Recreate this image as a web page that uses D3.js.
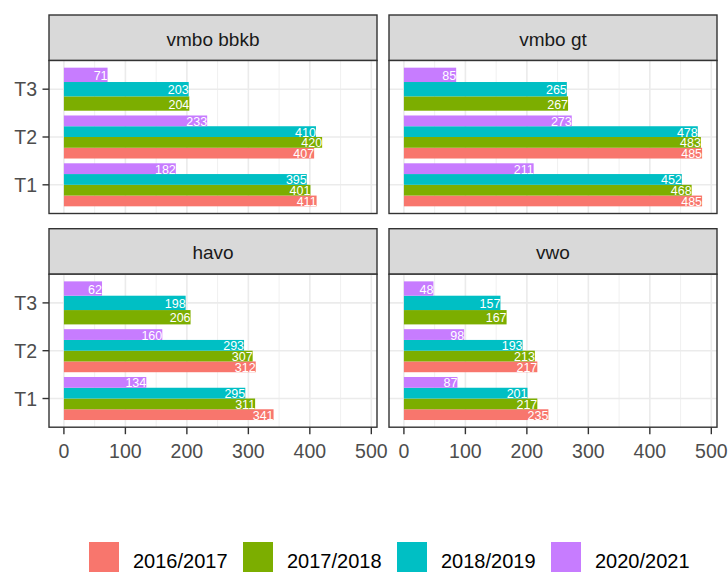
<!DOCTYPE html>
<html>
<head>
<meta charset="utf-8">
<script src="https://cdn.jsdelivr.net/npm/d3@7"></script>
<style>
  body { margin: 0; background: #fff; }
  svg { display: block; font-family: "Liberation Sans", Arial, sans-serif; }
</style>
</head>
<body>
<svg id="chart" width="728" height="572"></svg>
<script>
// categories
const facets = ["vmbo bbkb", "vmbo gt", "havo", "vwo"]
const periods = ["T1", "T2", "T3"]
const years = ["2016/2017", "2017/2018", "2018/2019", "2020/2021"]
const colors = ["#F8766D", "#7CAE00", "#00BFC4", "#C77CFF"]
const xTicks = [0, 100, 200, 300, 400, 500]

// values per facet: rows T1, T2, T3; columns follow years (null = no bar)
const vmboBbkb = [[411, 401, 395, 182], [407, 420, 410, 233], [null, 204, 203, 71]]
const vmboGt = [[485, 468, 452, 211], [485, 483, 478, 273], [null, 267, 265, 85]]
const havo = [[341, 311, 295, 134], [312, 307, 293, 160], [null, 206, 198, 62]]
const vwo = [[235, 217, 201, 87], [217, 213, 193, 98], [null, 167, 157, 48]]
const facetValues = [vmboBbkb, vmboGt, havo, vwo]

const svg = d3.select("#chart")

const colX = [49, 389]
const rowY = [15, 228.7]
const panelW = 328
const stripH = 45.5
const panelH = 153

const maxV = d3.max(facetValues.flat(2))
const x = d3.scaleLinear()
  .domain([0 - maxV * 0.05, maxV * 1.05])
  .range([0, panelW])
const y = d3.scalePoint()
  .domain(["T3", "T2", "T1"])
  .range([0, panelH])
  .padding(0.6)

facets.forEach(function(name, i) {
  const col = i % 2, row = Math.floor(i / 2)
  const g = svg.append("g")
    .attr("transform", "translate(" + colX[col] + "," + rowY[row] + ")")

  // strip
  g.append("rect")
    .attr("width", panelW).attr("height", stripH)
    .attr("fill", "#D9D9D9").attr("stroke", "#333333").attr("stroke-width", 1.4)
  g.append("text")
    .attr("x", panelW / 2).attr("y", stripH / 2 + 8)
    .attr("text-anchor", "middle")
    .attr("font-size", 19).attr("fill", "#1A1A1A")
    .text(name)

  const p = g.append("g").attr("transform", "translate(0," + stripH + ")")
  p.append("rect").attr("width", panelW).attr("height", panelH).attr("fill", "#fff")

  // grid
  const minor = xTicks.slice(0, -1).map(function(t) { return t + 50 })
  p.selectAll(".minor").data(minor).enter().append("line")
    .attr("x1", function(d) { return x(d) }).attr("x2", function(d) { return x(d) })
    .attr("y1", 0).attr("y2", panelH)
    .attr("stroke", "#F0F0F0").attr("stroke-width", 1)
  p.selectAll(".major").data(xTicks).enter().append("line")
    .attr("x1", function(d) { return x(d) }).attr("x2", function(d) { return x(d) })
    .attr("y1", 0).attr("y2", panelH)
    .attr("stroke", "#EBEBEB").attr("stroke-width", 1.6)
  p.selectAll(".hmajor").data(periods).enter().append("line")
    .attr("x1", 0).attr("x2", panelW)
    .attr("y1", function(d) { return y(d) }).attr("y2", function(d) { return y(d) })
    .attr("stroke", "#EBEBEB").attr("stroke-width", 1.6)

  // bars, dodged per period
  const bars = []
  periods.forEach(function(per, pi) {
    const present = years.filter(function(yr, yi) { return facetValues[i][pi][yi] != null })
    const step = y.step()
    const inner = d3.scaleBand()
      .domain(present.slice().reverse())
      .range([y(per) - step * 0.45, y(per) + step * 0.45])
    present.forEach(function(yr) {
      const yi = years.indexOf(yr)
      bars.push({ value: facetValues[i][pi][yi], color: colors[yi], y0: inner(yr), h: inner.bandwidth() })
    })
  })

  p.selectAll(".bar").data(bars).enter().append("rect")
    .attr("x", x(0))
    .attr("y", function(d) { return d.y0 })
    .attr("width", function(d) { return x(d.value) - x(0) })
    .attr("height", function(d) { return d.h })
    .attr("fill", function(d) { return d.color })

  p.selectAll(".lbl").data(bars).enter().append("text")
    .attr("x", function(d) { return x(d.value) })
    .attr("y", function(d) { return d.y0 + d.h / 2 + 5 })
    .attr("text-anchor", "end")
    .attr("font-size", 12.5).attr("fill", "#fff")
    .text(function(d) { return d.value })

  p.append("rect").attr("width", panelW).attr("height", panelH)
    .attr("fill", "none").attr("stroke", "#333333").attr("stroke-width", 1.4)

  // y axis on left column
  if (col === 0) {
    const ya = p.append("g")
    ya.selectAll("line").data(periods).enter().append("line")
      .attr("x1", -6.5).attr("x2", 0)
      .attr("y1", function(d) { return y(d) }).attr("y2", function(d) { return y(d) })
      .attr("stroke", "#333333").attr("stroke-width", 1.4)
    ya.selectAll("text").data(periods).enter().append("text")
      .attr("x", -12).attr("y", function(d) { return y(d) + 7 })
      .attr("text-anchor", "end").attr("font-size", 19.5).attr("fill", "#4D4D4D")
      .text(function(d) { return d })
  }
  // x axis on bottom row
  if (row === 1) {
    const xa = p.append("g").attr("transform", "translate(0," + panelH + ")")
    xa.selectAll("line").data(xTicks).enter().append("line")
      .attr("x1", function(d) { return x(d) }).attr("x2", function(d) { return x(d) })
      .attr("y1", 0).attr("y2", 7)
      .attr("stroke", "#333333").attr("stroke-width", 1.4)
    xa.selectAll("text").data(xTicks).enter().append("text")
      .attr("x", function(d) { return x(d) }).attr("y", 31)
      .attr("text-anchor", "middle").attr("font-size", 19.5).attr("fill", "#4D4D4D")
      .text(function(d) { return d })
  }
})

// legend
const legend = svg.append("g").attr("transform", "translate(89,542)")
const item = legend.selectAll(".item").data(years).enter().append("g")
  .attr("transform", function(d, i) { return "translate(" + i * 154 + ",0)" })
item.append("rect").attr("width", 30).attr("height", 30)
  .attr("fill", function(d, i) { return colors[i] })
item.append("text").attr("x", 44).attr("y", 26)
  .attr("font-size", 20).attr("fill", "#000")
  .text(function(d) { return d })
</script>
</body>
</html>
